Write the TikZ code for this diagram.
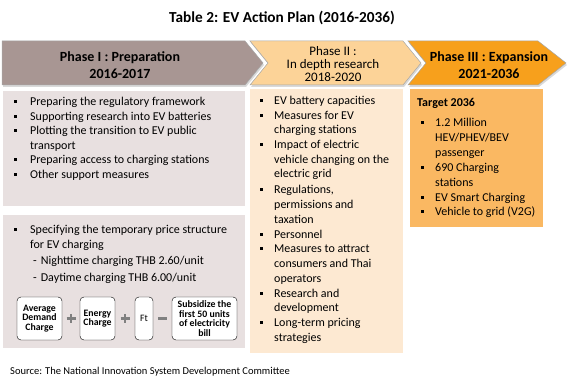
\documentclass[tikz,border=0pt]{standalone}
\usepackage{fontspec}
\setmainfont{Carlito}
\usetikzlibrary{shadows,calc}
\definecolor{phaseone}{RGB}{168,150,147}
\definecolor{boxone}{RGB}{232,224,224}
\definecolor{phasetwo}{RGB}{252,211,152}
\definecolor{boxtwo}{RGB}{253,233,210}
\definecolor{phasethree}{RGB}{247,160,28}
\definecolor{boxthree}{RGB}{250,184,98}
\definecolor{opgray}{RGB}{128,128,128}

\begin{document}
\begin{tikzpicture}[x=1pt,y=-1pt]
	\tikzstyle{every node}+=[inner sep=0pt]
	\tikzstyle{chev}=[draw=gray!70, line width=0.5pt, drop shadow={opacity=0.3, shadow xshift=1pt, shadow yshift=-2pt}]
	\tikzstyle{head}=[align=center, font=\bfseries\fontsize{14}{17}\selectfont]
	\tikzstyle{item}=[anchor=base west, font=\fontsize{12}{14}\selectfont]
	\tikzstyle{bul}=[fill=black]
	\tikzstyle{term}=[draw, rounded corners=4pt, fill=white, align=center, minimum height=43pt, font=\bfseries\fontsize{9.8}{9.5}\selectfont]
	\tikzstyle{op}=[draw=opgray, line width=2.6pt]
	\useasboundingbox (0,0) rectangle (574,387);
	\node (title) at (282,18) {\bfseries\fontsize{15.3}{18}\selectfont Table 2: EV Action Plan (2016-2036)};
	\filldraw [chev, fill=phaseone] (2,41) -- (245,41) -- (263,63) -- (245,85) -- (2,85) -- cycle;
	\filldraw [chev, fill=phasetwo] (250,41) -- (403,41) -- (421,63) -- (403,85) -- (250,85) -- (268,63) -- cycle;
	\filldraw [chev, fill=phasethree] (408,41) -- (538,41) -- (566,63) -- (538,85) -- (408,85) -- (426,63) -- cycle;
	\node [head] (p1) at (120,65) {Phase I : Preparation\\2016-2017};
	\node [align=center, font=\fontsize{13}{13}\selectfont] (p2) at (333,64) {Phase II :\\In depth research\\2018-2020};
	\node [head] (p3) at (489,65) {Phase III : Expansion\\2021-2036};
	\fill [boxone] (3,91) rectangle (245,206);
	\fill [boxone] (3,215) rectangle (245,348);
	\fill [boxtwo] (250,89) rectangle (403,353);
	\fill [boxthree] (410,89) rectangle (543,227);
	\foreach \y/\t in {102/Preparing the regulatory framework, 117/Supporting research into EV batteries, 131/Plotting the transition to EV public, 160/Preparing access to charging stations, 175/Other support measures, 230/Specifying the temporary price structure}
		{\node [item] at (30,\y+4) {\t};
		\fill [bul] (13.5,\y-1.5) rectangle +(3,3);}
	\node [item] at (30,150) {transport};
	\node [item] at (30,249) {for EV charging};
	\node [item] at (33,265) {-\hspace{4pt}Nighttime charging THB 2.60/unit};
	\node [item] at (33,282) {-\hspace{4pt}Daytime charging THB 6.00/unit};
	\foreach \y/\t in {101/EV battery capacities, 116/Measures for EV, 145/Impact of electric, 190/Regulations{,}, 235/Personnel, 249/Measures to attract, 294/Research and, 323/Long-term pricing}
		{\node [item] at (274,\y+4) {\t};
		\fill [bul] (259.5,\y-1.5) rectangle +(3,3);}
	\foreach \y/\t in {130/charging stations, 160/vehicle changing on the, 174/electric grid, 205/permissions and, 220/taxation, 264/consumers and Thai, 279/operators, 308/development, 338/strategies}
		\node [item] at (274,\y+4) {\t};
	\node [item, font=\bfseries\fontsize{12}{14}\selectfont] at (417,107) {Target 2036};
	\foreach \y/\t in {123/1.2 Million, 168/690 Charging, 198/EV Smart Charging, 212/Vehicle to grid (V2G)}
		{\node [item] at (435,\y+4) {\t};
		\fill [bul] (420.5,\y-1.5) rectangle +(3,3);}
	\foreach \y/\t in {138/{HEV/PHEV/BEV}, 153/passenger, 183/stations}
		\node [item] at (435,\y+4) {\t};
	\node [term, minimum width=45pt] (avg) at (39.5,318.5) {Average\\Demand\\Charge};
	\node [term, minimum width=35pt] (energy) at (97.5,318.5) {Energy\\Charge};
	\node [term, minimum width=18pt, font=\fontsize{9.8}{9.5}\selectfont] (ft) at (144,318.5) {Ft};
	\node [term, minimum width=65pt] (subsidy) at (204.5,318.5) {Subsidize the\\first 50 units\\of electricity\\bill};
	\draw [op] ($(avg.east)!0.5!(energy.west)$) ++(-4.5,0) -- ++(9,0) ++(-4.5,-4.5) -- ++(0,9);
	\draw [op] ($(energy.east)!0.5!(ft.west)$) ++(-4.5,0) -- ++(9,0) ++(-4.5,-4.5) -- ++(0,9);
	\draw [op] ($(ft.east)!0.5!(subsidy.west)$) ++(-4.5,0) -- ++(9,0);
	\node [anchor=west, font=\fontsize{10.5}{12}\selectfont] (source) at (10,372) {Source: The National Innovation System Development Committee};
\end{tikzpicture}
\end{document}
